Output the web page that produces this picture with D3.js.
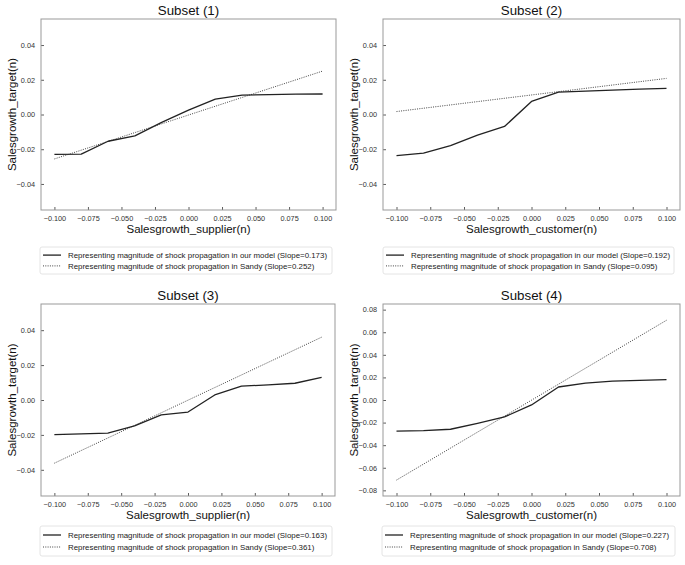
<!DOCTYPE html>
<html>
<head>
<meta charset="utf-8">
<script src="https://cdn.jsdelivr.net/npm/d3@7"></script>
<style>
html,body{margin:0;padding:0;background:#fff;}
svg{display:block;font-family:"Liberation Sans",Arial,sans-serif;}
</style>
</head>
<body>
<svg id="chart" width="685" height="565"></svg>
<script>
// ---- data ----
const titles = ["Subset (1)", "Subset (2)", "Subset (3)", "Subset (4)"];
const xLabels = ["Salesgrowth_supplier(n)", "Salesgrowth_customer(n)", "Salesgrowth_supplier(n)", "Salesgrowth_customer(n)"];
const yLabel = "Salesgrowth_target(n)";
const xValues = [-0.1, -0.08, -0.06, -0.04, -0.02, 0, 0.02, 0.04, 0.06, 0.08, 0.1];
const sandyX = [-0.1, 0.1];
const xTicks = [-0.1, -0.075, -0.05, -0.025, 0, 0.025, 0.05, 0.075, 0.1];
const yTicksA = [-0.04, -0.02, 0, 0.02, 0.04];
const yTicksB = [-0.08, -0.06, -0.04, -0.02, 0, 0.02, 0.04, 0.06, 0.08];

const model1 = [-0.0230, -0.0228, -0.0154, -0.0123, -0.0045, 0.0025, 0.0088, 0.0112, 0.0115, 0.0117, 0.0118];
const sandy1 = [-0.0256, 0.0250];
const model2 = [-0.0237, -0.0223, -0.0179, -0.0119, -0.0069, 0.0075, 0.0129, 0.0135, 0.0140, 0.0146, 0.0150];
const sandy2 = [0.0017, 0.0208];
const model3 = [-0.0198, -0.0194, -0.0190, -0.0148, -0.0085, -0.0069, 0.0029, 0.0079, 0.0087, 0.0096, 0.0129];
const sandy3 = [-0.0362, 0.0360];
const model4 = [-0.0276, -0.0271, -0.0259, -0.0206, -0.0150, -0.0044, 0.0115, 0.0150, 0.0168, 0.0174, 0.0180];
const sandy4 = [-0.0709, 0.0706];

const modelSlopes = ["0.173", "0.192", "0.163", "0.227"];
const sandySlopes = ["0.252", "0.095", "0.361", "0.708"];
const xDomain = [-0.11, 0.11];
const yDomains = [[-0.055, 0.055], [-0.055, 0.055], [-0.055, 0.055], [-0.085, 0.085]];

// ---- layout ----
const panels = [
  {l: 41, r: 336, t: 19, b: 210, legT: 247, legB: 274, legL: 40, legR: 332, ylx: 12},
  {l: 383, r: 680, t: 19, b: 210, legT: 247, legB: 274, legL: 383, legR: 674, ylx: 354},
  {l: 41, r: 335, t: 304, b: 496, legT: 526, legB: 556, legL: 40, legR: 332, ylx: 12},
  {l: 383, r: 680, t: 304, b: 496, legT: 526, legB: 556, legL: 382, legR: 675, ylx: 354}
];
const models = [model1, model2, model3, model4];
const sandies = [sandy1, sandy2, sandy3, sandy4];
const yTickSets = [yTicksA, yTicksA, yTicksA, yTicksB];

const svg = d3.select("#chart");
const fx = d3.format(".3f");
const fy = d3.format(".2f");

panels.forEach((p, i) => {
  const x = d3.scaleLinear().domain(xDomain).range([p.l, p.r]);
  const y = d3.scaleLinear().domain(yDomains[i]).range([p.b, p.t]);
  const g = svg.append("g");

  // axes
  const xa = g.append("g").attr("transform", `translate(0,${p.b})`)
    .call(d3.axisBottom(x).tickValues(xTicks).tickFormat(fx).tickSizeInner(-3).tickSizeOuter(0).tickPadding(6));
  const ya = g.append("g").attr("transform", `translate(${p.l},0)`)
    .call(d3.axisLeft(y).tickValues(yTickSets[i]).tickFormat(fy).tickSizeInner(-3).tickSizeOuter(0).tickPadding(6));
  [xa, ya].forEach(a => {
    a.select(".domain").remove();
    a.selectAll(".tick line").attr("stroke", "#333").attr("stroke-width", 0.8);
    a.selectAll(".tick text").attr("fill", "#333").style("font-size", "7.3px").style("font-family", "'Liberation Sans',Arial,sans-serif");
  });

  // lines
  const line = d3.line().x(d => x(d[0])).y(d => y(d[1]));
  g.append("path").datum(sandyX.map((v, k) => [v, sandies[i][k]]))
    .attr("d", line).attr("fill", "none").attr("stroke", "#444")
    .attr("stroke-width", 1).attr("stroke-dasharray", "1,1.3");
  g.append("path").datum(xValues.map((v, k) => [v, models[i][k]]))
    .attr("d", line).attr("fill", "none").attr("stroke", "#222")
    .attr("stroke-width", 1.3).attr("stroke-linejoin", "round");

  // frame
  g.append("rect").attr("x", p.l).attr("y", p.t).attr("width", p.r - p.l).attr("height", p.b - p.t)
    .attr("fill", "none").attr("stroke", "#999").attr("stroke-width", 1);

  // title
  g.append("text").attr("x", (p.l + p.r) / 2).attr("y", p.t - 4)
    .attr("text-anchor", "middle").attr("fill", "#111").style("font-size", "13.3px").text(titles[i]);
  // x label
  g.append("text").attr("x", (p.l + p.r) / 2).attr("y", p.b + 23)
    .attr("text-anchor", "middle").attr("fill", "#111").style("font-size", "11.5px").text(xLabels[i]);
  // y label
  const cy = (p.t + p.b) / 2;
  g.append("text").attr("transform", `translate(${p.ylx + 4},${cy}) rotate(-90)`)
    .attr("text-anchor", "middle").attr("fill", "#111").style("font-size", "11.5px").text(yLabel);

  // legend
  const lg = g.append("g");
  lg.append("rect").attr("x", p.legL).attr("y", p.legT).attr("width", p.legR - p.legL).attr("height", p.legB - p.legT)
    .attr("rx", 2).attr("fill", "#fff").attr("stroke", "#ddd").attr("stroke-width", 0.8);
  const rows = [
    {label: `Representing magnitude of shock propagation in our model (Slope=${modelSlopes[i]})`, dash: null, w: 1.3, c: "#222"},
    {label: `Representing magnitude of shock propagation in Sandy (Slope=${sandySlopes[i]})`, dash: "1,1.3", w: 1, c: "#444"}
  ];
  const h = p.legB - p.legT;
  rows.forEach((r, k) => {
    const ry = p.legT + h * (k === 0 ? 0.3 : 0.7);
    lg.append("line").attr("x1", p.legL + 3).attr("x2", p.legL + 21).attr("y1", ry).attr("y2", ry)
      .attr("stroke", r.c).attr("stroke-width", r.w).attr("stroke-dasharray", r.dash);
    lg.append("text").attr("x", p.legL + 28).attr("y", ry).attr("dy", "0.35em")
      .attr("fill", "#222").style("font-size", "7.9px").text(r.label);
  });
});
</script>
</body>
</html>
